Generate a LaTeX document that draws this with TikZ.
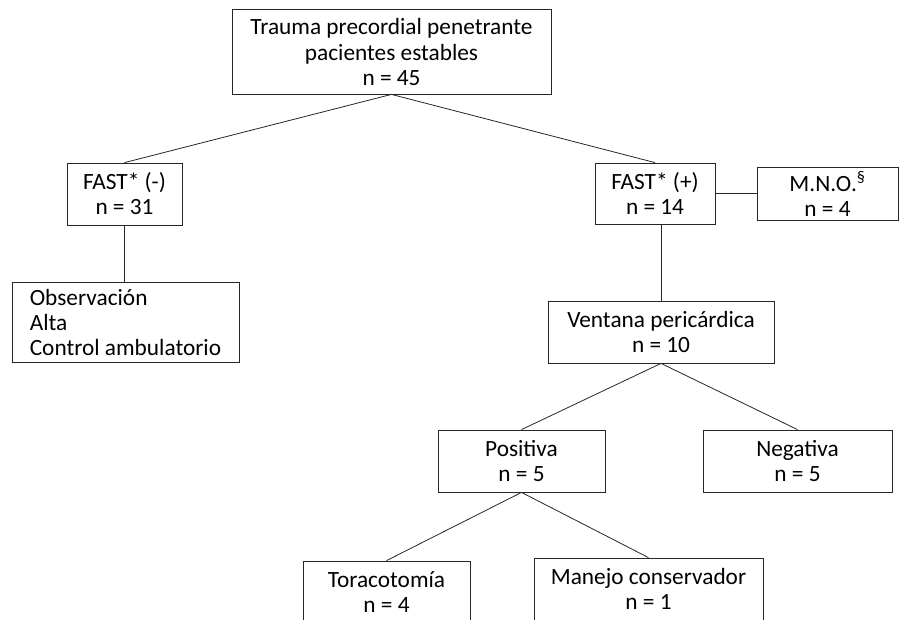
\documentclass[tikz,border=0pt]{standalone}
\usepackage{fontspec}
\setmainfont{Carlito}
\usetikzlibrary{positioning, calc}

\begin{document}
\begin{tikzpicture}[
    x=1pt, y=-1pt,
    box/.style={rectangle, draw=black!85, line width=0.8pt, align=center, inner sep=0pt, font=\fontsize{23.3}{25}\selectfont},
    link/.style={draw=black!85, line width=0.8pt}
]
    \useasboundingbox (0,0) rectangle (900,619);
    \clip (0,0) rectangle (900,619);

    % Root
    \node[box, minimum width=319, minimum height=85] (root) at (391.5, 51.5) {Trauma precordial penetrante\\[1pt]pacientes estables\\n = 45};

    % FAST negative branch
    \node[box, minimum width=115, minimum height=62] (fneg) at (124.5, 194) {FAST* (-)\\n = 31};
    \node[box, minimum width=227, minimum height=80, align=left] (obs) at (125.5, 322) {Observación\\Alta\\Control ambulatorio};
    \draw[link] (root.south) -- (fneg.north);
    \draw[link] (fneg.south) -- (fneg.south |- obs.north);

    % FAST positive branch
    \node[box, minimum width=120, minimum height=61] (fpos) at (655, 193.5) {FAST* (+)\\n = 14};
    \node[box, minimum width=141, minimum height=53] (mno) at (827.5, 193.5) {M.N.O.\textsuperscript{§}\\n = 4};
    \draw[link] (root.south) -- (fpos.north);
    \draw[link] (fpos.east) -- (mno.west);

    % Ventana pericardica
    \node[box, minimum width=226, minimum height=62] (vent) at (661, 332) {Ventana pericárdica\\n = 10};
    \draw[link] (vent.north) -- (vent.north |- fpos.south);

    \node[box, minimum width=167, minimum height=62] (pos) at (521.5, 461) {Positiva\\n = 5};
    \node[box, minimum width=189, minimum height=62] (neg) at (797.5, 461) {Negativa\\n = 5};
    \draw[link] (vent.south) -- (pos.north);
    \draw[link] (vent.south) -- (neg.north);

    % Treatment
    \node[box, minimum width=167, minimum height=62] (tora) at (386.5, 592) {Toracotomía\\n = 4};
    \node[box, minimum width=229, minimum height=62] (cons) at (648.5, 589) {Manejo conservador\\n = 1};
    \draw[link] (pos.south) -- (tora.north);
    \draw[link] (pos.south) -- (cons.north);
\end{tikzpicture}
\end{document}
